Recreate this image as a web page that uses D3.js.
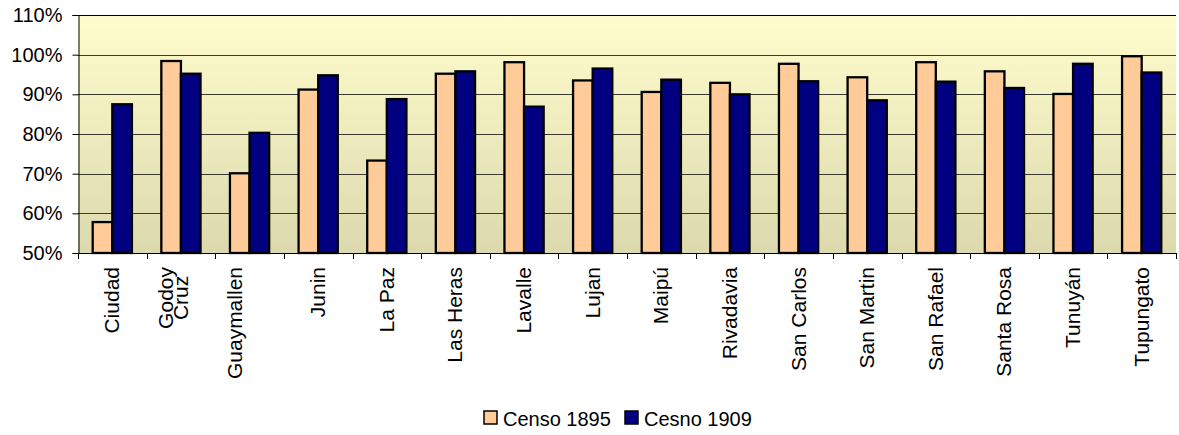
<!DOCTYPE html>
<html>
<head>
<meta charset="utf-8">
<script src="https://cdn.jsdelivr.net/npm/d3@7/dist/d3.min.js"></script>
<style>
  html, body { margin: 0; padding: 0; background: #fff; }
  svg { display: block; font-family: "Liberation Sans", Arial, sans-serif; }
</style>
</head>
<body>
<svg id="chart" width="1179" height="435"></svg>
<script>
// Departments of Mendoza; "\n" marks a line break in the axis label
const categories = [
  "Ciudad", "Godoy\nCruz", "Guaymallen\n", "Junin", "La Paz", "Las Heras",
  "Lavalle", "Lujan", "Maipú", "Rivadavia", "San Carlos", "San Martin",
  "San Rafael", "Santa Rosa", "Tunuyán", "Tupungato"
];
const seriesNames = ["Censo 1895", "Cesno 1909"];
const censo1895 = [0.578, 0.984, 0.701, 0.912, 0.733, 0.952, 0.981, 0.935,
                   0.906, 0.929, 0.977, 0.943, 0.981, 0.958, 0.901, 0.996];
const censo1909 = [0.875, 0.952, 0.803, 0.948, 0.888, 0.958, 0.869, 0.965,
                   0.937, 0.900, 0.933, 0.885, 0.932, 0.916, 0.977, 0.955];
const yTicks = [0.5, 0.6, 0.7, 0.8, 0.9, 1.0, 1.1];
const colors = ["#FFCC99", "#000080"];

const svg = d3.select("#chart");
const plot = { left: 78, right: 1176, top: 15, bottom: 253 };

const x = d3.scaleBand().domain(d3.range(categories.length))
  .range([plot.left, plot.right]).paddingInner(0).paddingOuter(0);
const barW = x.bandwidth() / 3.5;        // gap width 150%
const x1 = d3.scaleBand().domain([0, 1])
  .range([x.bandwidth() / 2 - barW, x.bandwidth() / 2 + barW]);
const y = d3.scaleLinear().domain([0.5, 1.1]).range([plot.bottom, plot.top]);

// plot area background gradient
const defs = svg.append("defs");
const grad = defs.append("linearGradient").attr("id", "bg")
  .attr("x1", 0).attr("y1", 0).attr("x2", 0).attr("y2", 1);
grad.append("stop").attr("offset", "0%").attr("stop-color", "#FFFDCC");
grad.append("stop").attr("offset", "100%").attr("stop-color", "#DCD9AE");

svg.append("rect")
  .attr("x", plot.left).attr("y", plot.top)
  .attr("width", plot.right - plot.left).attr("height", plot.bottom - plot.top)
  .attr("fill", "url(#bg)");

// horizontal gridlines
svg.append("g").selectAll("line").data(yTicks.slice(1)).join("line")
  .attr("x1", plot.left).attr("x2", plot.right)
  .attr("y1", d => Math.round(y(d)) + 0.5).attr("y2", d => Math.round(y(d)) + 0.5)
  .attr("stroke", d => d === 1.1 ? "#000" : "#3a3a32").attr("stroke-width", 1.2);

// bars
const series = [censo1895, censo1909];
series.forEach((vals, s) => {
  svg.append("g").selectAll("rect").data(vals).join("rect")
    .attr("x", (d, i) => x(i) + x1(s))
    .attr("y", d => y(d))
    .attr("width", x1.bandwidth())
    .attr("height", d => y(0.5) - y(d))
    .attr("fill", colors[s])
    .attr("stroke", "#000").attr("stroke-width", 2.3);
});

// y axis
const yAxis = d3.axisLeft(y).tickValues(yTicks).tickFormat(d3.format(".0%"))
  .tickSize(6).tickPadding(10);
const gy = svg.append("g").attr("transform", `translate(${plot.left + 0.5},0)`).call(yAxis);
gy.select(".domain").attr("stroke", "#000");
gy.selectAll(".tick line").attr("stroke", "#000");
gy.selectAll("text").attr("font-size", 20).attr("fill", "#000")
  .attr("font-family", "Liberation Sans, Arial, sans-serif");

// x axis: tick marks on category boundaries
const gx = svg.append("g");
gx.append("line")
  .attr("x1", plot.left).attr("x2", plot.right + 1)
  .attr("y1", plot.bottom + 0.5).attr("y2", plot.bottom + 0.5)
  .attr("stroke", "#000");
gx.selectAll("line.tk").data(d3.range(categories.length + 1)).join("line")
  .attr("class", "tk")
  .attr("x1", i => Math.round(plot.left + i * x.bandwidth()) + 0.5)
  .attr("x2", i => Math.round(plot.left + i * x.bandwidth()) + 0.5)
  .attr("y1", plot.bottom).attr("y2", plot.bottom + 6)
  .attr("stroke", "#000");

// rotated category labels
const lineH = 15;
const labelTop = 267;
categories.forEach((c, i) => {
  const lines = c.split("\n");
  const cx = x(i) + x.bandwidth() / 2;
  const g = svg.append("g");
  const texts = lines.map((t, j) => g.append("text")
    .attr("font-size", 21).attr("fill", "#000")
    .attr("text-anchor", "middle")
    .attr("dy", "0.33em")
    .text(t));
  const maxLen = d3.max(texts, t => t.node().getComputedTextLength());
  texts.forEach((t, j) => {
    const lx = cx - (lines.length - 1 - j) * lineH;
    const ly = labelTop + maxLen / 2;
    t.attr("transform", `translate(${lx},${ly}) rotate(-90)`);
  });
});

// legend
const legend = svg.append("g");
const legendX = [484, 625];
seriesNames.forEach((name, s) => {
  legend.append("rect")
    .attr("x", legendX[s]).attr("y", 411).attr("width", 13).attr("height", 13)
    .attr("fill", colors[s]).attr("stroke", "#000").attr("stroke-width", 1.5);
  legend.append("text")
    .attr("x", legendX[s] + 19).attr("y", 425.5)
    .attr("font-size", 20).attr("fill", "#000")
    .text(name);
});
</script>
</body>
</html>
